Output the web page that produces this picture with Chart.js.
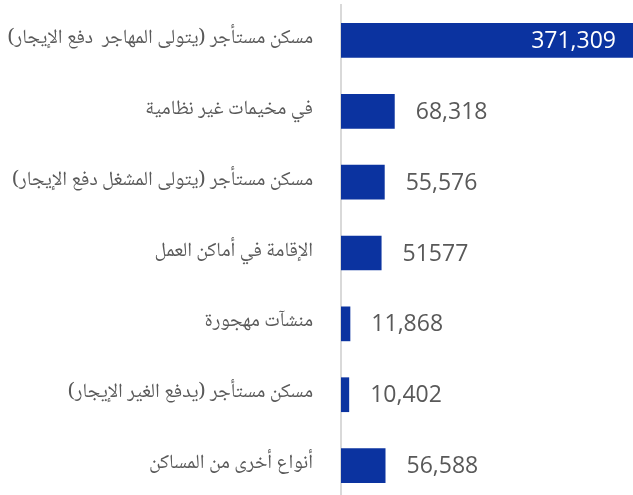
<!DOCTYPE html>
<html lang="ar">
<head>
<meta charset="utf-8">
<script src="https://cdn.jsdelivr.net/npm/chart.js@4.4.1/dist/chart.umd.min.js"></script>
<style>
  html, body { margin: 0; padding: 0; background: #fff; overflow: hidden; }
  #wrap { position: relative; width: 633px; height: 501px; }
</style>
</head>
<body>
<div id="wrap"><canvas id="chart"></canvas></div>
<script>
// Categorias (tipos de moradia) e valores.
const categories = [
  'مسكن مستأجر (يتولى المهاجر  دفع الإيجار)',
  'في مخيمات غير نظامية',
  'مسكن مستأجر (يتولى المشغل دفع الإيجار)',
  'الإقامة في أماكن العمل',
  'منشآت مهجورة',
  'مسكن مستأجر (يدفع الغير الإيجار)',
  'أنواع أخرى من المساكن'
];
const values = [371309, 68318, 55576, 51577, 11868, 10402, 56588];
// Rótulos exatamente como aparecem (um deles sem separador de milhar).
const valueLabels = ['371,309', '68,318', '55,576', '51577', '11,868', '10,402', '56,588'];

const BAR_COLOR = '#0b33a0';
const TEXT_COLOR = '#595959';
const ARABIC_FONT = "'Noto Naskh Arabic', 'Noto Sans Arabic', 'DejaVu Sans', sans-serif";

// Plugin simples para desenhar os valores ao lado das barras.
const valueLabelPlugin = {
  id: 'valueLabels',
  afterDatasetsDraw(chart) {
    const ctx = chart.ctx;
    const meta = chart.getDatasetMeta(0);
    ctx.save();
    ctx.font = "23px 'Open Sans', sans-serif";
    ctx.textBaseline = 'middle';
    meta.data.forEach((bar, i) => {
      if (i === 0) {
        // A barra maior recebe o rótulo por dentro, em branco.
        ctx.fillStyle = '#ffffff';
        ctx.textAlign = 'right';
        ctx.fillText(valueLabels[i], bar.x - 17, bar.y + 1);
      } else {
        ctx.fillStyle = TEXT_COLOR;
        ctx.textAlign = 'left';
        ctx.fillText(valueLabels[i], bar.x + 21, bar.y + 1);
      }
    });
    ctx.restore();
  }
};

new Chart(document.getElementById('chart').getContext('2d'), {
  type: 'bar',
  data: {
    labels: categories,
    datasets: [{
      data: values,
      backgroundColor: BAR_COLOR,
      borderWidth: 0,
      categoryPercentage: 1,
      barPercentage: 0.49
    }]
  },
  options: {
    indexAxis: 'y',
    responsive: true,
    maintainAspectRatio: false,
    animation: false,
    layout: { padding: { top: 5, right: 0, bottom: 0, left: 0 } },
    plugins: {
      legend: { display: false },
      tooltip: { enabled: false }
    },
    scales: {
      x: {
        display: false,
        min: 0,
        max: 371309
      },
      y: {
        afterFit(scale) {
          // Largura fixa para os rótulos e sem folga extra em cima/embaixo.
          scale.width = 341;
          scale.paddingTop = 0;
          scale.paddingBottom = 0;
        },
        grid: { display: false, drawTicks: false },
        border: { display: true, color: '#d9d9d9', width: 2 },
        ticks: {
          color: TEXT_COLOR,
          padding: 28,
          font: { family: ARABIC_FONT, size: 20 }
        }
      }
    }
  },
  plugins: [valueLabelPlugin]
});
</script>
</body>
</html>
